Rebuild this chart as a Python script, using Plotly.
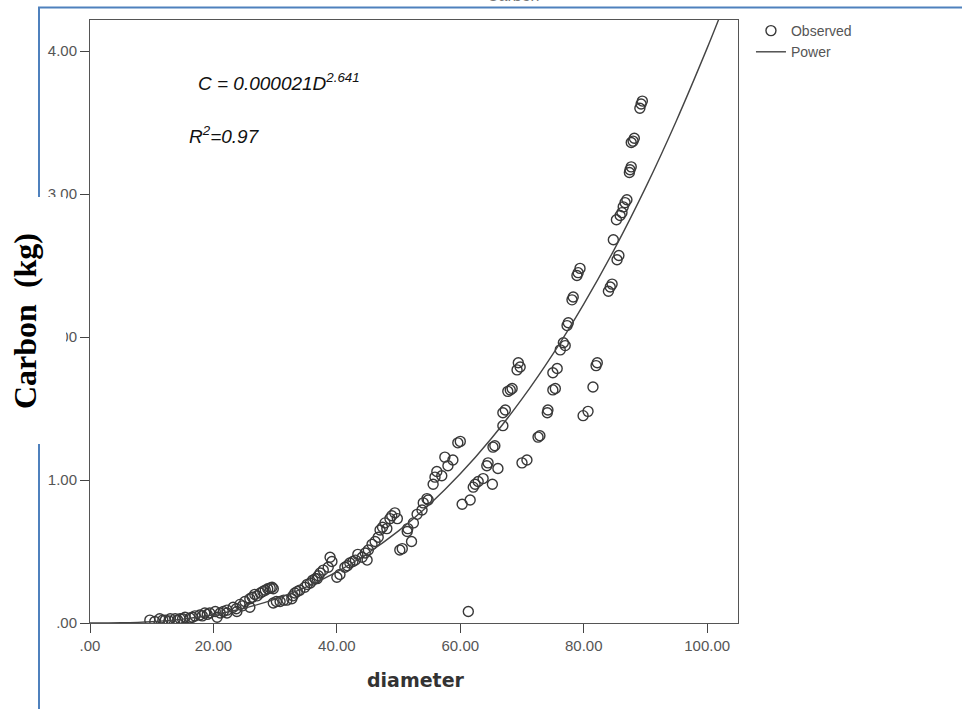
import plotly.graph_objects as go

diameter = [
    9.7, 10.5, 11.3, 11.8, 12.2, 12.8, 13.0, 13.8, 14.2, 14.6, 15.0, 15.4, 16.2, 16.6, 17.0, 17.8,
    18.2, 18.6, 19.0, 19.4, 20.3, 20.6, 21.1, 21.6,
    22.2, 22.2, 23.2, 23.7, 23.8, 24.3, 24.7, 25.1, 25.9, 25.9, 26.3, 26.7, 27.1, 27.6, 28.0,
    28.4, 28.8, 29.2, 29.5, 29.7, 29.7, 30.2,
    30.8, 31.4, 31.9, 32.7, 32.9, 33.2, 33.6, 34.0, 34.8, 35.2, 35.7, 36.1, 36.5, 36.8, 37.0,
    37.3, 37.8, 38.6, 38.9, 39.2,
    40.0, 40.5, 41.3, 41.7, 42.1, 42.6, 43.0, 43.4, 44.1, 44.6, 44.9, 45.1, 45.7, 46.2, 46.7,
    47.0, 47.4, 47.8,
    48.1, 48.6, 48.9, 49.4, 49.8, 50.2, 50.6, 51.4, 51.5, 52.1, 52.4, 53.0, 53.8, 54.0, 54.6, 54.8,
    55.6, 55.9, 56.2, 57.0, 57.5, 58.0, 58.8, 59.6, 60.0, 60.3, 61.3, 61.6, 62.1, 62.4, 62.9,
    63.7, 64.3, 64.5, 65.2, 65.3, 65.6, 66.1, 66.9, 66.9, 67.3, 67.7, 68.1, 68.4, 69.2, 69.4,
    69.7, 70.0, 70.8, 72.6, 72.9, 74.1, 74.2, 75.0, 75.4, 75.0, 75.7, 76.2, 76.7, 77.0, 77.3,
    77.5, 78.1, 78.3, 78.9, 79.1, 79.4, 79.9, 80.7, 81.5, 82.0, 82.2, 84.0, 84.3, 84.6, 84.8,
    85.4, 85.7, 85.3, 85.9, 86.2, 86.4, 86.7, 87.0, 87.4, 87.5, 87.7, 87.7, 88.0, 88.2, 89.1,
    89.3, 89.5,
]
carbon = [
    0.02, 0.01, 0.03, 0.02, 0.02, 0.015, 0.03, 0.03, 0.02, 0.03, 0.03, 0.04, 0.035, 0.04, 0.05, 0.056,
    0.05, 0.07, 0.06, 0.07, 0.08, 0.04, 0.07, 0.08,
    0.09, 0.07, 0.11, 0.10, 0.08, 0.13, 0.12, 0.15, 0.17, 0.11, 0.18, 0.20, 0.19, 0.21, 0.22,
    0.23, 0.24, 0.245, 0.25, 0.24, 0.14, 0.15,
    0.15, 0.16, 0.16, 0.17, 0.19, 0.21, 0.22, 0.23, 0.25, 0.27, 0.28, 0.30, 0.31, 0.31, 0.33,
    0.35, 0.37, 0.39, 0.46, 0.43,
    0.32, 0.34, 0.39, 0.40, 0.42, 0.43, 0.44, 0.48, 0.46, 0.49, 0.44, 0.51, 0.55, 0.57, 0.60,
    0.65, 0.67, 0.70,
    0.66, 0.73, 0.75, 0.77, 0.73, 0.51, 0.52, 0.64, 0.66, 0.57, 0.70, 0.76, 0.79, 0.84, 0.87, 0.86,
    0.97, 1.02, 1.06, 1.03, 1.16, 1.10, 1.14, 1.26, 1.27, 0.83, 0.08, 0.86, 0.95, 0.97, 0.99,
    1.01, 1.10, 1.12, 0.97, 1.23, 1.24, 1.08, 1.38, 1.47, 1.49, 1.62, 1.63, 1.64, 1.77, 1.82,
    1.79, 1.12, 1.14, 1.30, 1.31, 1.47, 1.49, 1.63, 1.64, 1.75, 1.78, 1.91, 1.96, 1.94, 2.08,
    2.10, 2.26, 2.28, 2.43, 2.45, 2.48, 1.45, 1.48, 1.65, 1.80, 1.82, 2.32, 2.35, 2.37, 2.68,
    2.54, 2.57, 2.82, 2.85, 2.87, 2.91, 2.94, 2.96, 3.15, 3.17, 3.19, 3.36, 3.37, 3.39, 3.60,
    3.63, 3.65,
]

# Power fit C = 0.000021 D^2.641, values read at regular diameters
fit_d = [0, 5, 10, 15, 20, 25, 30, 35, 40, 45, 50, 55, 60, 65, 70, 75, 80, 85, 90, 95, 100, 102]
fit_c = [0.0, 0.0015, 0.0092, 0.0268, 0.0573, 0.1033, 0.1673, 0.2513, 0.3574, 0.4879, 0.6445,
         0.8289, 1.0431, 1.2886, 1.5669, 1.8804, 2.2300, 2.6165, 3.0427, 3.5112, 4.0203, 4.2355]

x_tickvals = [0, 20, 40, 60, 80, 100]
x_ticktext = [".00", "20.00", "40.00", "60.00", "80.00", "100.00"]
y_tickvals = [0, 1, 2, 3, 4]
y_ticktext = [".00", "1.00", "2.00", "3.00", "4.00"]

W, H = 962, 709
L, R, T, B = 90, 224, 20, 86
PW, PH = W - L - R, H - T - B


def px(xp):
    return (xp - L) / PW


def py(yp):
    return (H - B - yp) / PH


fig = go.Figure()
fig.add_trace(go.Scatter(
    x=diameter, y=carbon, mode="markers", name="Observed",
    marker=dict(symbol="circle-open", size=10, color="#383838", line=dict(width=1.4)),
))
fig.add_trace(go.Scatter(
    x=fit_d, y=fit_c, mode="lines", name="Power",
    line=dict(color="#444444", width=1.4, shape="spline"),
))

blue = "#4F81BD"
shapes = [
    dict(type="rect", xref="paper", yref="paper", x0=px(0), x1=px(66), y0=py(444), y1=py(197),
         fillcolor="white", line=dict(width=0), layer="above"),
    dict(type="line", xref="paper", yref="paper", x0=px(38), x1=px(962), y0=py(7.5), y1=py(7.5),
         line=dict(color=blue, width=2)),
    dict(type="line", xref="paper", yref="paper", x0=px(39), x1=px(39), y0=py(7), y1=py(197),
         line=dict(color=blue, width=2)),
    dict(type="line", xref="paper", yref="paper", x0=px(39), x1=px(39), y0=py(444), y1=py(712),
         line=dict(color=blue, width=2)),
]

annotations = [
    dict(xref="paper", yref="paper", x=px(196), y=py(82), xanchor="left", yanchor="middle",
         text="<i>C = 0.000021D<sup>2.641</sup></i>", showarrow=False,
         font=dict(family="Liberation Sans", size=19, color="#111")),
    dict(xref="paper", yref="paper", x=px(187), y=py(135), xanchor="left", yanchor="middle",
         text="<i>R<sup>2</sup>=0.97</i>", showarrow=False,
         font=dict(family="Liberation Sans", size=19, color="#111")),
    dict(xref="paper", yref="paper", x=px(25), y=py(321), xanchor="center", yanchor="middle",
         text="<b>Carbon\u00a0 (kg)</b>", textangle=-90, showarrow=False,
         font=dict(family="Liberation Serif", size=32, color="#000")),
    dict(xref="paper", yref="paper", x=px(416), y=py(680), xanchor="center", yanchor="middle",
         text="<b>diameter</b>", showarrow=False,
         font=dict(family="DejaVu Sans", size=19, color="#333")),
    dict(xref="paper", yref="paper", x=px(513), y=py(-5), xanchor="center", yanchor="middle",
         text="Carbon", showarrow=False,
         font=dict(family="Liberation Sans", size=16, color="#777")),
]

axis_common = dict(
    showgrid=False, zeroline=False, showline=True, linecolor="#555555", linewidth=1,
    mirror=True, ticks="outside", ticklen=9, tickcolor="#444444", tickwidth=1,
    tickfont=dict(family="Liberation Sans", size=15, color="#555555"),
)

fig.update_layout(
    width=W, height=H,
    margin=dict(l=L, r=R, t=T, b=B),
    paper_bgcolor="white", plot_bgcolor="white",
    xaxis=dict(range=[0, 105], tickmode="array", tickvals=x_tickvals, ticktext=x_ticktext, **axis_common),
    yaxis=dict(range=[0, 4.217], tickmode="array", tickvals=y_tickvals, ticktext=y_ticktext, **axis_common),
    legend=dict(x=1.02, y=py(15), xanchor="left", yanchor="top", bgcolor="rgba(0,0,0,0)",
                font=dict(family="Liberation Sans", size=14, color="#555555"), tracegroupgap=0),
    shapes=shapes, annotations=annotations, showlegend=True,
)

fig.write_html("out.html")
